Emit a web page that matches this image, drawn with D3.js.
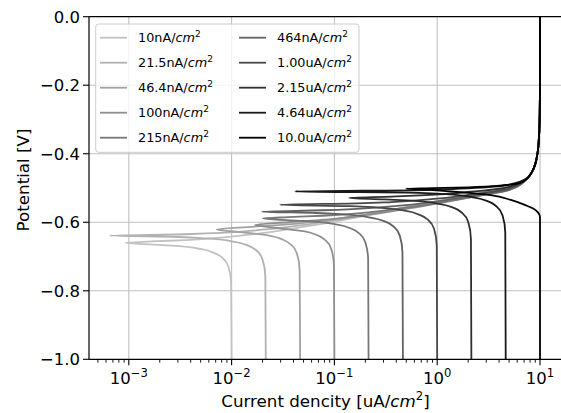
<!DOCTYPE html>
<html>
<head>
<meta charset="utf-8">
<script src="https://cdn.jsdelivr.net/npm/d3@7"></script>
<style>
body { margin: 0; background: #fff; }
text { font-family: "DejaVu Sans", sans-serif; fill: #000; }
</style>
</head>
<body>
<svg id="chart" width="561" height="413"></svg>
<script>
// legend labels (value part, unit "cm^2" is added when drawing)
var labels = ["10nA/", "21.5nA/", "46.4nA/", "100nA/", "215nA/",
              "464nA/", "1.00uA/", "2.15uA/", "4.64uA/", "10.0uA/"];
var colors = ["#c2c2c2", "#b2b2b2", "#a2a2a2", "#8e8e8e", "#787878",
              "#626262", "#484848", "#2f2f2f", "#191919", "#000000"];

// [current uA/cm2, potential V], bottom to top
var curve10n = [[0.01,-1.0],[0.0099,-0.780],[0.00932,-0.730],[0.00822,-0.705],[0.00684,-0.690],[0.00499,-0.678],
    [0.00264,-0.668],[0.00142,-0.664],[0.00093,-0.660],[0.00166,-0.656],[0.00359,-0.652],[0.00995,-0.642],
    [0.0216,-0.630],[0.0462,-0.615],[0.1,-0.598],[0.3,-0.571],[1,-0.540],[2.5,-0.516],[5,-0.498]];
var curve21n = [[0.0215,-1.0],[0.0213,-0.759],[0.0200,-0.709],[0.01767,-0.684],[0.01471,-0.669],[0.01073,-0.657],
    [0.00568,-0.647],[0.00305,-0.643],[0.00065,-0.639],[0.00357,-0.635],[0.00772,-0.631],[0.0214,-0.621],
    [0.0465,-0.609],[0.0993,-0.594],[0.3,-0.5685],[1,-0.5384],[2.5,-0.5148],[5,-0.4969]];
var curve46n = [[0.0464,-1.0],[0.0459,-0.741],[0.0432,-0.691],[0.0381,-0.666],[0.0317,-0.651],[0.0232,-0.639],
    [0.01225,-0.629],[0.00716,-0.621],[0.01666,-0.613],[0.0462,-0.603],[0.1003,-0.591],[0.2144,-0.576],
    [0.5,-0.5567],[1,-0.5398],[2.5,-0.5166],[5,-0.4988]];
var curve100n = [[0.1,-1.0],[0.099,-0.728],[0.0932,-0.678],[0.0822,-0.653],[0.0684,-0.638],[0.0499,-0.626],
    [0.0264,-0.616],[0.0169,-0.608],[0.0359,-0.600],[0.0995,-0.590],[0.2162,-0.578],[0.462,-0.563],
    [1,-0.5455],[2.5,-0.5231],[5,-0.5055]];
var curve215n = [[0.215,-1.0],[0.2129,-0.709],[0.2004,-0.659],[0.1767,-0.634],[0.1471,-0.619],[0.1073,-0.607],
    [0.0568,-0.597],[0.0305,-0.593],[0.0202,-0.589],[0.0357,-0.585],[0.0772,-0.581],[0.2139,-0.571],
    [0.4648,-0.559],[0.9933,-0.544],[2.5,-0.5229],[5,-0.5059]];
var curve464n = [[0.464,-1.0],[0.4594,-0.689],[0.4324,-0.639],[0.3814,-0.614],[0.3174,-0.599],[0.2315,-0.587],
    [0.1225,-0.577],[0.0659,-0.573],[0.0197,-0.569],[0.0770,-0.565],[0.1666,-0.561],[0.4617,-0.551],
    [1.003,-0.539],[2.144,-0.524],[5,-0.5047]];
var curve1u = [[1,-1.0],[0.99,-0.669],[0.932,-0.619],[0.822,-0.594],[0.684,-0.579],[0.499,-0.567],
    [0.264,-0.557],[0.142,-0.553],[0.0296,-0.549],[0.166,-0.545],[0.359,-0.541],[0.995,-0.531],
    [2.162,-0.519],[4.62,-0.504]];
var curve2u = [[2.15,-1.0],[2.129,-0.649],[2.004,-0.599],[1.767,-0.574],[1.471,-0.559],[1.073,-0.547],
    [0.568,-0.537],[0.305,-0.533],[0.139,-0.529],[0.357,-0.525],[0.772,-0.521],[2.139,-0.511],[4.648,-0.499]];
var curve4u = [[4.64,-1.0],[4.594,-0.630],[4.324,-0.580],[3.814,-0.555],[3.174,-0.540],[2.315,-0.528],
    [1.225,-0.518],[0.659,-0.514],[0.0414,-0.510],[0.770,-0.506],[1.666,-0.502],[4.617,-0.492]];
var curve10u = [[10,-1.0],[10,-0.585],[9.6,-0.572],[8.6,-0.560],[7.2,-0.550],[5.2,-0.535],[3.3,-0.521],
    [1.8,-0.513],[1.0,-0.507],[0.7,-0.5035],[0.5,-0.502],[0.9,-0.5005],[2.0,-0.498],[4.5,-0.492],[6.6,-0.484]];
// all curves run into the same branch at the top
var topBranch = [[7.6,-0.470],[8.4,-0.452],[9.0,-0.430],[9.5,-0.395],[9.8,-0.345],[9.95,-0.28],[10,-0.2],[10,0.0]];

var series = [curve10n, curve21n, curve46n, curve100n, curve215n,
              curve464n, curve1u, curve2u, curve4u, curve10u];

var xTicks = [1e-3, 1e-2, 1e-1, 1, 10];
var xTickExp = ["\u22123", "\u22122", "\u22121", "0", "1"];
var yTicks = [0, -0.2, -0.4, -0.6, -0.8, -1.0];

var pL = 89, pR = 562, pT = 16.7, pB = 359.3;

var svg = d3.select("#chart");

var x = d3.scaleLog().domain([4.10e-4, 16.37]).range([pL, pR]);
var y = d3.scaleLinear().domain([-1, 0]).range([pB, pT]);

svg.append("defs").append("clipPath").attr("id", "clip")
    .append("rect").attr("x", pL).attr("y", pT)
    .attr("width", pR - pL).attr("height", pB - pT);

// grid
svg.append("g").selectAll("line").data(xTicks).enter().append("line")
    .attr("x1", d => x(d)).attr("x2", d => x(d))
    .attr("y1", pT).attr("y2", pB)
    .attr("stroke", "#c0c0c0").attr("stroke-width", 1.1);
svg.append("g").selectAll("line").data(yTicks.slice(1, 5)).enter().append("line")
    .attr("x1", pL).attr("x2", pR)
    .attr("y1", d => y(d)).attr("y2", d => y(d))
    .attr("stroke", "#c0c0c0").attr("stroke-width", 1.1);

// curves
var line = d3.line()
    .x(d => x(d[0]))
    .y(d => y(d[1]))
    .curve(d3.curveMonotoneY);

svg.append("g").attr("clip-path", "url(#clip)")
    .selectAll("path").data(series).enter().append("path")
    .attr("d", d => line(d.concat(topBranch)))
    .attr("fill", "none")
    .attr("stroke", (d, i) => colors[i])
    .attr("stroke-width", 1.8);

// spines
svg.append("line").attr("x1", pL).attr("x2", pR).attr("y1", pT).attr("y2", pT)
    .attr("stroke", "#000").attr("stroke-width", 1.2);
svg.append("line").attr("x1", pL).attr("x2", pR).attr("y1", pB).attr("y2", pB)
    .attr("stroke", "#000").attr("stroke-width", 1.2);
svg.append("line").attr("x1", pL).attr("x2", pL).attr("y1", pT).attr("y2", pB)
    .attr("stroke", "#000").attr("stroke-width", 1.2);

// y ticks
var yAx = svg.append("g");
yAx.selectAll("line").data(yTicks).enter().append("line")
    .attr("x1", pL - 6).attr("x2", pL)
    .attr("y1", d => y(d)).attr("y2", d => y(d))
    .attr("stroke", "#000").attr("stroke-width", 1.1);
yAx.selectAll("text").data(yTicks).enter().append("text")
    .attr("x", pL - 9).attr("y", d => y(d) + 6)
    .attr("text-anchor", "end")
    .style("font-size", "16.5px")
    .text(d => d3.format(".1f")(d).replace("-", "\u2212"));

// x ticks, major and minor
var xAx = svg.append("g");
var minor = [];
[1e-4, 1e-3, 1e-2, 1e-1, 1, 10].forEach(function (dec) {
    for (var k = 2; k <= 9; k++) {
        var v = dec * k;
        if (x(v) >= pL && x(v) <= pR) minor.push(v);
    }
});
xAx.selectAll("line.minor").data(minor).enter().append("line")
    .attr("class", "minor")
    .attr("x1", d => x(d)).attr("x2", d => x(d))
    .attr("y1", pB).attr("y2", pB + 3.4)
    .attr("stroke", "#000").attr("stroke-width", 0.9);
xAx.selectAll("line.major").data(xTicks).enter().append("line")
    .attr("class", "major")
    .attr("x1", d => x(d)).attr("x2", d => x(d))
    .attr("y1", pB).attr("y2", pB + 6)
    .attr("stroke", "#000").attr("stroke-width", 1.1);
var xl = xAx.selectAll("text").data(xTicks).enter().append("text")
    .attr("x", d => x(d)).attr("y", 384)
    .attr("text-anchor", "middle")
    .style("font-size", "16.5px");
xl.append("tspan").text("10");
xl.append("tspan").attr("dy", -7).style("font-size", "11.6px").text((d, i) => xTickExp[i]);

// axis titles
var xt = svg.append("text").attr("x", (pL + pR) / 2).attr("y", 407)
    .attr("text-anchor", "middle").style("font-size", "16.7px");
xt.append("tspan").text("Current dencity [uA/");
xt.append("tspan").style("font-style", "italic").text("cm");
xt.append("tspan").attr("dy", -7).style("font-size", "11.7px").text("2");
xt.append("tspan").attr("dy", 7).text("]");

svg.append("text")
    .attr("transform", "translate(29,180) rotate(-90)")
    .attr("text-anchor", "middle")
    .style("font-size", "16.7px")
    .text("Potential [V]");

// legend
var lg = svg.append("g");
lg.append("rect").attr("x", 95.7).attr("y", 24).attr("width", 263.3).attr("height", 128.3)
    .attr("rx", 3).attr("fill", "#fff").attr("fill-opacity", 0.8)
    .attr("stroke", "#cccccc").attr("stroke-width", 1);
var items = lg.selectAll("g.item").data(labels).enter().append("g")
    .attr("class", "item")
    .attr("transform", (d, i) => "translate(" + (i < 5 ? 100 : 239) + "," + (37.7 + 25 * (i % 5)) + ")");
items.append("line").attr("x1", 0).attr("x2", 27).attr("y1", 0).attr("y2", 0)
    .attr("stroke", (d, i) => colors[i]).attr("stroke-width", 1.8);
var lt = items.append("text").attr("x", 38).attr("y", 4.6).style("font-size", "12.8px");
lt.append("tspan").text(d => d);
lt.append("tspan").style("font-style", "italic").text("cm");
lt.append("tspan").attr("dy", -5.5).style("font-size", "9px").text("2");
</script>
</body>
</html>
